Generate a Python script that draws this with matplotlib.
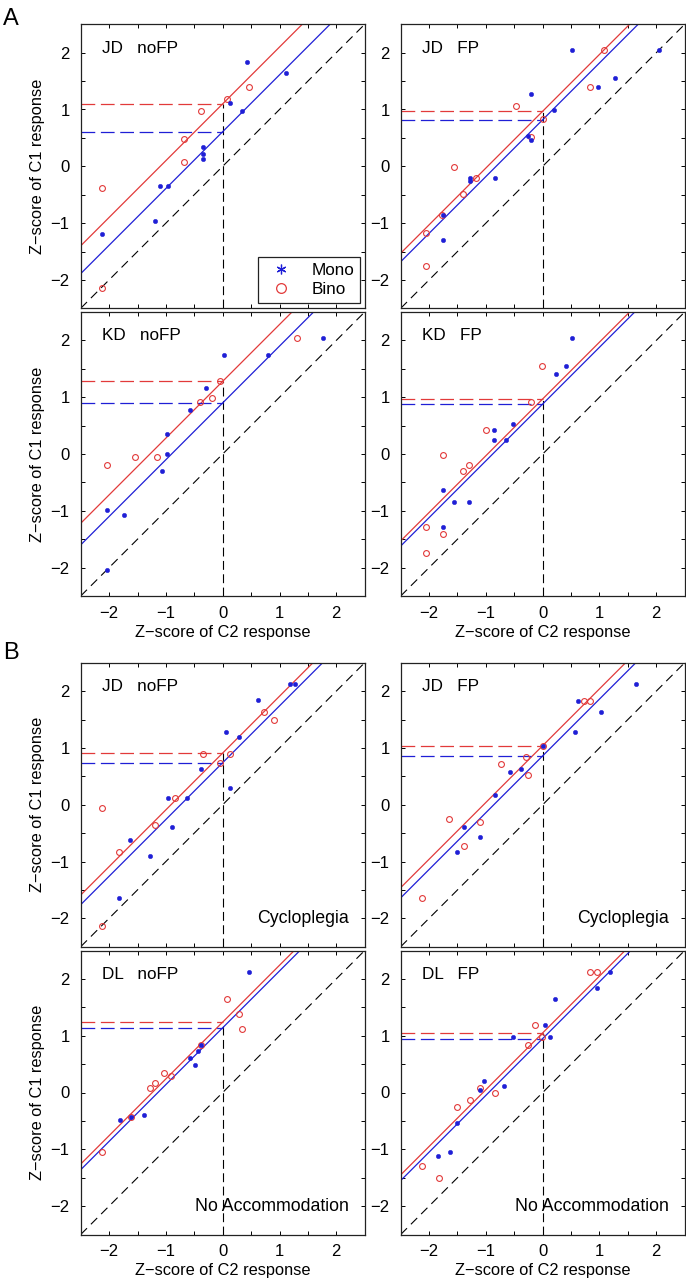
import matplotlib
matplotlib.use('Agg')
import matplotlib.pyplot as plt
from matplotlib.lines import Line2D
import numpy as np

plt.rcParams['font.family'] = ['Liberation Sans', 'DejaVu Sans']
plt.rcParams['axes.unicode_minus'] = True

# ---------------- data ----------------
# A, top-left: JD noFP
a1_mono_x = [-2.12, -1.19, -1.11, -0.97, -0.34, -0.34, -0.34, 0.12, 0.34, 0.43, 1.11]
a1_mono_y = [-1.19, -0.97, -0.34, -0.34, 0.34, 0.22, 0.13, 1.12, 0.97, 1.84, 1.65]
a1_bino_x = [-2.12, -2.12, -0.68, -0.68, -0.39, 0.08, 0.47]
a1_bino_y = [-0.39, -2.14, 0.48, 0.08, 0.97, 1.19, 1.39]
a1_fit = [0.61, 1.10]   # intercepts (Mono, Bino), slope 1

# A, top-right: JD FP
a2_mono_x = [-1.75, -1.75, -1.28, -1.28, -0.84, -0.26, -0.21, -0.21, 0.20, 0.52, 0.98, 1.28, 2.05]
a2_mono_y = [-0.85, -1.29, -0.21, -0.26, -0.21, 0.53, 0.47, 1.28, 0.99, 2.05, 1.40, 1.55, 2.05]
a2_bino_x = [-2.05, -2.05, -1.77, -1.56, -1.41, -1.17, -0.47, -0.20, 0.00, 0.84, 1.08]
a2_bino_y = [-1.18, -1.76, -0.85, -0.01, -0.48, -0.21, 1.07, 0.52, 0.84, 1.40, 2.05]
a2_fit = [0.82, 0.97]

# A, bottom-left: KD noFP
a3_mono_x = [-2.03, -2.03, -1.74, -1.07, -0.98, -0.98, -0.57, -0.29, 0.02, 0.79, 1.76]
a3_mono_y = [-0.99, -2.05, -1.08, -0.30, 0.00, 0.36, 0.77, 1.17, 1.75, 1.75, 2.05]
a3_bino_x = [-2.03, -1.54, -1.15, -0.40, -0.19, -0.04, 1.30]
a3_bino_y = [-0.20, -0.05, -0.05, 0.91, 0.99, 1.28, 2.05]
a3_fit = [0.90, 1.28]

# A, bottom-right: KD FP
a4_mono_x = [-1.76, -1.76, -1.56, -1.29, -0.85, -0.85, -0.65, -0.53, 0.24, 0.41, 0.51]
a4_mono_y = [-0.64, -1.28, -0.84, -0.84, 0.42, 0.25, 0.25, 0.52, 1.41, 1.55, 2.05]
a4_bino_x = [-2.05, -2.05, -1.76, -1.76, -1.41, -1.29, -1.00, -0.21, -0.01]
a4_bino_y = [-1.28, -1.75, -0.01, -1.41, -0.30, -0.20, 0.42, 0.91, 1.55]
a4_fit = [0.88, 0.97]

# B, top-left: JD noFP (Cycloplegia)
b1_mono_x = [-1.83, -1.64, -1.28, -0.97, -0.90, -0.62, -0.39, 0.05, 0.12, 0.29, 0.62, 1.19, 1.28]
b1_mono_y = [-1.64, -0.62, -0.90, 0.12, -0.39, 0.12, 0.62, 1.28, 0.30, 1.20, 1.84, 2.13, 2.13]
b1_bino_x = [-2.12, -2.12, -1.83, -1.19, -0.84, -0.35, -0.05, 0.12, 0.73, 0.90]
b1_bino_y = [-0.05, -2.13, -0.84, -0.35, 0.12, 0.90, 0.73, 0.90, 1.64, 1.50]
b1_fit = [0.74, 0.91]

# B, top-right: JD FP (Cycloplegia)
b2_mono_x = [-1.51, -1.38, -1.11, -0.84, -0.57, -0.39, 0.00, 0.57, 0.62, 1.03, 1.64]
b2_mono_y = [-0.84, -0.39, -0.57, 0.17, 0.57, 0.62, 1.03, 1.28, 1.83, 1.64, 2.12]
b2_bino_x = [-2.13, -1.65, -1.38, -1.11, -0.73, -0.30, -0.25, 0.00, 0.73, 0.84]
b2_bino_y = [-1.64, -0.26, -0.73, -0.30, 0.72, 0.84, 0.52, 1.03, 1.83, 1.83]
b2_fit = [0.86, 1.04]

# B, bottom-left: DL noFP (No Accommodation)
b3_mono_x = [-1.81, -1.61, -1.39, -0.57, -0.48, -0.43, -0.39, 0.47]
b3_mono_y = [-0.48, -0.44, -0.39, 0.61, 0.48, 0.73, 0.84, 2.13]
b3_bino_x = [-2.13, -1.61, -1.28, -1.20, -1.04, -0.91, -0.39, 0.08, 0.29, 0.34]
b3_bino_y = [-1.04, -0.44, 0.08, 0.16, 0.34, 0.29, 0.84, 1.65, 1.38, 1.11]
b3_fit = [1.14, 1.24]

# B, bottom-right: DL FP (No Accommodation)
b4_mono_x = [-1.84, -1.64, -1.50, -1.11, -1.04, -0.68, -0.53, 0.04, 0.12, 0.21, 0.96, 1.19]
b4_mono_y = [-1.12, -1.04, -0.53, 0.05, 0.21, 0.12, 0.97, 1.19, 0.97, 1.65, 1.84, 2.13]
b4_bino_x = [-2.13, -1.83, -1.50, -1.28, -1.11, -0.84, -0.26, -0.13, -0.01, 0.83, 0.96]
b4_bino_y = [-1.29, -1.51, -0.26, -0.13, 0.08, -0.01, 0.84, 1.19, 0.98, 2.13, 2.13]
b4_fit = [0.95, 1.05]

panel_titles = ['JD   noFP', 'JD   FP', 'KD   noFP', 'KD   FP',
                'JD   noFP', 'JD   FP', 'DL   noFP', 'DL   FP']
panel_notes = ['', '', '', '', 'Cycloplegia', 'Cycloplegia',
               'No Accommodation', 'No Accommodation']
tick_vals = [-2, -1, 0, 1, 2]
tick_labels = ['\u22122', '\u22121', '0', '1', '2']
series_labels = ['Mono', 'Bino']
x_label = 'Z\u2212score of C2 response'
y_label = 'Z\u2212score of C1 response'

panels = [
    (a1_mono_x, a1_mono_y, a1_bino_x, a1_bino_y, a1_fit),
    (a2_mono_x, a2_mono_y, a2_bino_x, a2_bino_y, a2_fit),
    (a3_mono_x, a3_mono_y, a3_bino_x, a3_bino_y, a3_fit),
    (a4_mono_x, a4_mono_y, a4_bino_x, a4_bino_y, a4_fit),
    (b1_mono_x, b1_mono_y, b1_bino_x, b1_bino_y, b1_fit),
    (b2_mono_x, b2_mono_y, b2_bino_x, b2_bino_y, b2_fit),
    (b3_mono_x, b3_mono_y, b3_bino_x, b3_bino_y, b3_fit),
    (b4_mono_x, b4_mono_y, b4_bino_x, b4_bino_y, b4_fit),
]

# ---------------- layout ----------------
W, H = 686, 1283
fig = plt.figure(figsize=(W / 100, H / 100), dpi=100)

col_left = [80.7, 400.7]
row_top = [24.3, 312.0, 662.7, 950.5]
size = 284.0

BLUE = '#1f1fd6'
RED = '#e23a3a'
LIM = (-2.5, 2.5)

for i, (mx, my, bx, by, fit) in enumerate(panels):
    r, c = divmod(i, 2)
    left = col_left[c] / W
    bottom = 1 - (row_top[r] + size) / H
    ax = fig.add_axes([left, bottom, size / W, size / H])
    ax.set_xlim(*LIM)
    ax.set_ylim(*LIM)

    # identity line
    ax.plot(LIM, LIM, color='black', lw=0.8, ls=(0, (8, 5)), zorder=1)
    # fitted lines (slope 1)
    b_mono, b_bino = fit
    ax.axline((0, b_mono), slope=1, color=BLUE, lw=0.9, zorder=2)
    ax.axline((0, b_bino), slope=1, color=RED, lw=0.9, zorder=2)
    # intercept markers
    ax.plot([LIM[0], 0], [b_bino, b_bino], color=RED, lw=0.9, ls=(0, (11, 4.5)), zorder=2)
    ax.plot([LIM[0], 0], [b_mono, b_mono], color=BLUE, lw=0.9, ls=(0, (11, 4.5)), zorder=2)
    ax.plot([0, 0], [LIM[0], max(fit)], color='black', lw=0.8, ls=(0, (8, 4)), zorder=1)

    # data
    ax.plot(bx, by, ls='none', marker='o', ms=4.2, mfc='none', mec=RED, mew=0.8, zorder=3)
    ax.plot(mx, my, ls='none', marker='o', ms=3.2, mfc=BLUE, mec=BLUE, mew=0.3, zorder=4)

    ax.text(-2.13, 2.0, panel_titles[i], fontsize=12.3, ha='left', va='baseline')
    if panel_notes[i]:
        ax.text(2.22, -2.09, panel_notes[i], fontsize=12.8, ha='right', va='baseline')

    ax.set_xticks(np.arange(-2.5, 2.51, 0.5))
    ax.set_yticks(np.arange(-2.5, 2.51, 0.5))
    xl = ['' for _ in ax.get_xticks()]
    yl = ['' for _ in ax.get_yticks()]
    for v, lab in zip(tick_vals, tick_labels):
        idx = int(round((v + 2.5) / 0.5))
        xl[idx] = lab
        yl[idx] = lab
    ax.set_yticklabels(yl)
    if r in (1, 3):
        ax.set_xticklabels(xl)
        ax.set_xlabel(x_label, fontsize=11.8, labelpad=3)
    else:
        ax.set_xticklabels(['' for _ in xl])
    if c == 0:
        ax.set_ylabel(y_label, fontsize=11.8, labelpad=4)
    ax.tick_params(direction='in', length=3, width=0.7, top=True, right=True,
                   labelsize=12, pad=7, colors='black')
    ax.tick_params(axis='y', pad=8)
    for s in ax.spines.values():
        s.set_linewidth(0.9)
        s.set_color('#222222')

    if i == 0:
        handles = [Line2D([], [], ls='none', marker=(6, 2, 0), ms=7, color=BLUE, mew=0.9),
                   Line2D([], [], ls='none', marker='o', ms=7, mfc='none', mec=RED, mew=0.9)]
        leg = ax.legend(handles, series_labels, loc='lower right',
                        bbox_to_anchor=(0.985, 0.019), borderaxespad=0,
                        fancybox=False, framealpha=1, edgecolor='#222222',
                        fontsize=12.3, handlelength=2.0, handletextpad=0.8,
                        borderpad=0.35, labelspacing=0.25)
        leg.get_frame().set_linewidth(0.9)

fig.text(3 / W, 1 - 25 / H, 'A', fontsize=17, ha='left', va='baseline')
fig.text(3 / W, 1 - 659 / H, 'B', fontsize=17, ha='left', va='baseline')

fig.savefig('out.png', dpi=100)
